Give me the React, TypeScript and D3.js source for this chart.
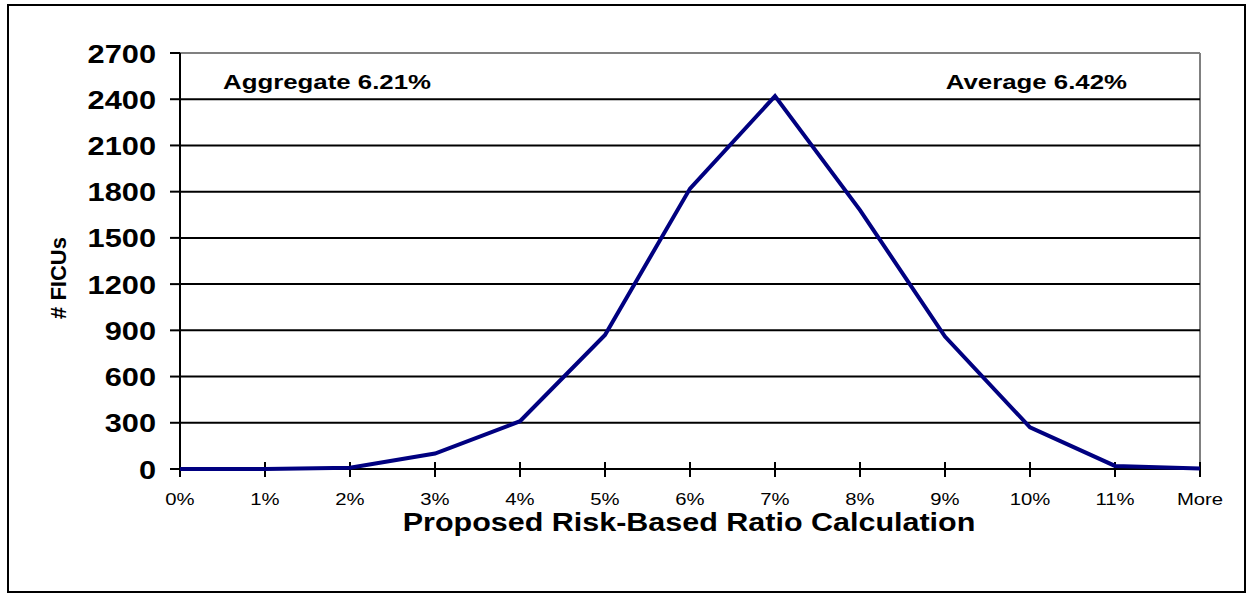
import React from "react";
import * as d3 from "d3";

const categories = ["0%", "1%", "2%", "3%", "4%", "5%", "6%", "7%", "8%", "9%", "10%", "11%", "More"];
const counts = [0, 0, 8, 100, 310, 870, 1820, 2420, 1680, 860, 270, 20, 3];
const yTicks = [0, 300, 600, 900, 1200, 1500, 1800, 2100, 2400, 2700];
const annotations = ["Aggregate 6.21%", "Average 6.42%"];
const xTitle = "Proposed Risk-Based Ratio Calculation";
const yTitle = "# FICUs";

const W = 1246;
const H = 594;
const left = 180;
const right = 1200;
const top = 53;
const bottom = 469;
const font = "Arial, 'Liberation Sans', Helvetica, sans-serif";
const SX = 1.23;

export default function App() {
  const x = d3.scalePoint<string>().domain(categories).range([left, right]);
  const y = d3.scaleLinear().domain([0, 2700]).range([bottom, top]);
  const line = d3
    .line<number>()
    .x((_, i) => x(categories[i]) as number)
    .y((d) => y(d));

  return (
    <svg
      width={W}
      height={H}
      style={{ position: "absolute", left: 0, top: 0, background: "#fff" }}
      fontFamily={font}
    >
      <rect x={8} y={5} width={1237} height={587} fill="#fff" stroke="#000" strokeWidth={2} />
      <line x1={left} x2={right} y1={top} y2={top} stroke="#808080" strokeWidth={2} />
      <line x1={right} x2={right} y1={top} y2={bottom} stroke="#808080" strokeWidth={2} />
      {yTicks.filter((t) => t > 0 && t < 2700).map((t) => (
        <line key={t} x1={left} x2={right} y1={y(t)} y2={y(t)} stroke="#000" strokeWidth={2} />
      ))}
      {yTicks.map((t) => (
        <g key={"yt" + t}>
          <line x1={left - 10} x2={left} y1={y(t)} y2={y(t)} stroke="#000" strokeWidth={2} />
          <text
            transform={`translate(156,${y(t) + 9.5}) scale(${SX},1)`}
            textAnchor="end"
            fontSize={25}
            fontWeight="bold"
          >
            {t}
          </text>
        </g>
      ))}
      {categories.map((c) => (
        <g key={"xt" + c}>
          <line x1={x(c)} x2={x(c)} y1={bottom - 7} y2={bottom + 8} stroke="#000" strokeWidth={2} />
          <text
            transform={`translate(${x(c)},505) scale(${SX},1)`}
            textAnchor="middle"
            fontSize={16.5}
          >
            {c}
          </text>
        </g>
      ))}
      <line x1={left} x2={left} y1={top} y2={bottom} stroke="#000" strokeWidth={2} />
      <line x1={left} x2={right} y1={bottom} y2={bottom} stroke="#000" strokeWidth={2} />
      <path d={line(counts) || ""} fill="none" stroke="#000080" strokeWidth={4} strokeLinejoin="miter" />
      <text transform={`translate(223,89) scale(${SX},1)`} fontSize={21} fontWeight="bold">
        {annotations[0]}
      </text>
      <text
        transform={`translate(1127,89) scale(${SX},1)`}
        fontSize={21}
        fontWeight="bold"
        textAnchor="end"
      >
        {annotations[1]}
      </text>
      <text
        transform={`translate(689,531) scale(1.22,1)`}
        textAnchor="middle"
        fontSize={25}
        fontWeight="bold"
      >
        {xTitle}
      </text>
      <text
        transform={`translate(66,278) rotate(-90)`}
        textAnchor="middle"
        fontSize={22}
        fontWeight="bold"
      >
        {yTitle}
      </text>
    </svg>
  );
}
